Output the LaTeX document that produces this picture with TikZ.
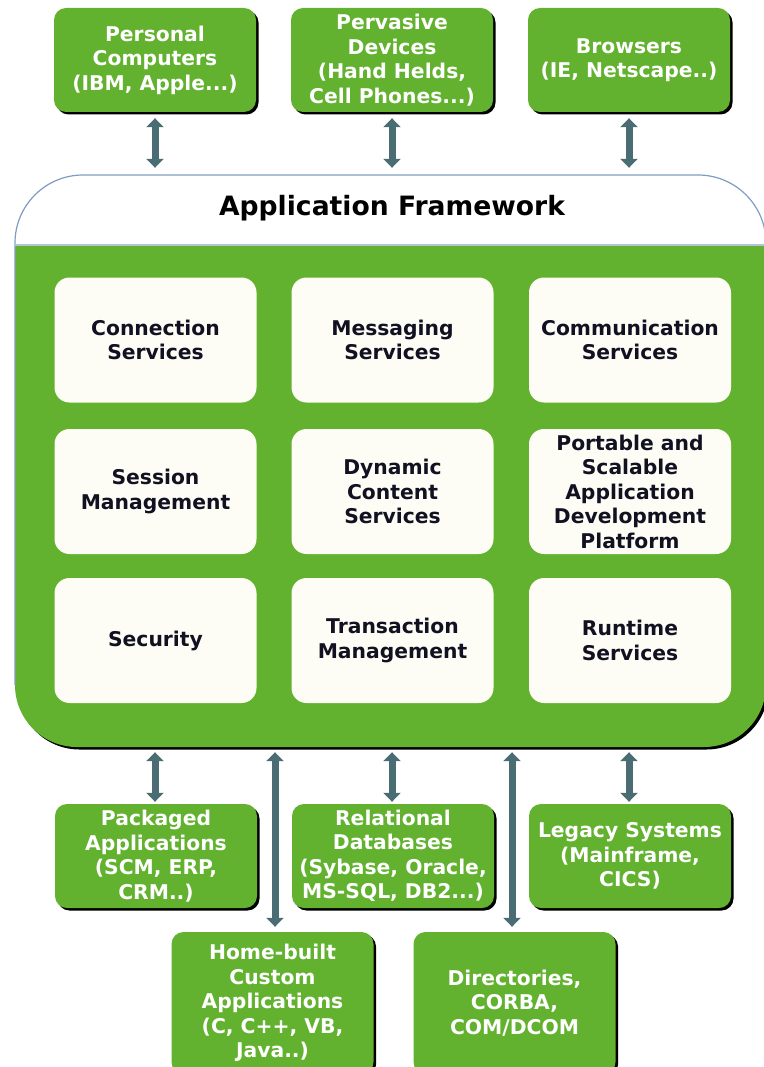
\documentclass[tikz,border=0pt]{standalone}
\usepackage{fontspec}
\setmainfont{DejaVu Sans}
\usetikzlibrary{arrows.meta,shadows}
\definecolor{fwgreen}{HTML}{62B22F}
\definecolor{cream}{HTML}{FDFDF5}
\definecolor{arrowc}{HTML}{4A6D74}
\definecolor{edgeblue}{HTML}{7E9DC2}
\definecolor{inktext}{HTML}{111122}
\tikzset{
  gbox/.style={draw=none, fill=fwgreen, rounded corners=12pt, minimum width=202pt, minimum height=104pt,
    inner sep=0pt, align=center, text=white, font=\fontsize{20.3}{24.5}\selectfont\bfseries,
    drop shadow={shadow xshift=2.5pt, shadow yshift=-2.5pt, fill=black, opacity=1}},
  cbox/.style={draw=none, fill=cream, rounded corners=15pt, minimum width=202pt, minimum height=125pt,
    inner sep=0pt, align=center, text=inktext, font=\fontsize{20.3}{24.5}\selectfont\bfseries},
  arr/.style={draw=arrowc, line width=7pt, {Triangle[width=17pt,length=9pt]}-{Triangle[width=17pt,length=9pt]}},
}
\begin{document}
\begin{tikzpicture}[x=1pt,y=-1pt]
\useasboundingbox (0,0) rectangle (763,1067);
% framework shadow
\fill[black] (17.5,247.5) -- (17.5,687.5) arc[start angle=180,end angle=90,radius=62] -- (706.5,749.5)
  arc[start angle=90,end angle=0,radius=62] -- (768.5,247.5) -- cycle;
% green body
\fill[fwgreen] (15,245) -- (15,685) arc[start angle=180,end angle=90,radius=62] -- (704,747)
  arc[start angle=90,end angle=0,radius=62] -- (766,245) -- cycle;
% white header
\fill[white] (15,245) -- (15,243) arc[start angle=180,end angle=270,radius=68] -- (698,175)
  arc[start angle=270,end angle=360,radius=68] -- (766,245) -- cycle;
% outline
\draw[edgeblue, line width=1.2pt] (15,685) -- (15,243) arc[start angle=180,end angle=270,radius=68] -- (698,175)
  arc[start angle=270,end angle=360,radius=68] -- (766,685);
\draw[edgeblue!60, line width=1.5pt] (15,245) -- (766,245);
\node (fw) [minimum width=751pt, minimum height=572pt, inner sep=0pt] at (390.5,461) {};
\node (title) [font=\fontsize{26.6}{30}\selectfont\bfseries, text=black] at (392,208) {Application Framework};

% top boxes
\node (pc) [gbox] at (155,60) {Personal\\Computers\\(IBM, Apple...)};
\node (pd) [gbox] at (392,60) {Pervasive\\Devices\\(Hand Helds,\\Cell Phones...)};
\node (br) [gbox] at (629,60) {Browsers\\(IE, Netscape..)};

% inner boxes
\node (cs) [cbox] at (155.5,340) {Connection\\Services};
\node (ms) [cbox] at (392.5,340) {Messaging\\Services};
\node (co) [cbox] at (630,340) {Communication\\Services};
\node (sm) [cbox] at (155.5,491.5) {Session\\Management};
\node (dc) [cbox] at (392.5,491.5) {Dynamic\\Content\\Services};
\node (ps) [cbox] at (630,491.5) {Portable and\\Scalable\\Application\\Development\\Platform};
\node (se) [cbox] at (155.5,640.5) {Security};
\node (tm) [cbox] at (392.5,640.5) {Transaction\\Management};
\node (rs) [cbox] at (630,640.5) {Runtime\\Services};

% bottom boxes
\node (pa) [gbox] at (156,856) {Packaged\\Applications\\(SCM, ERP,\\CRM..)};
\node (rd) [gbox] at (393,856) {Relational\\Databases\\(Sybase, Oracle,\\MS-SQL, DB2...)};
\node (ls) [gbox] at (630,856) {Legacy Systems\\(Mainframe,\\CICS)};
\node (hb) [gbox, minimum height=142pt] at (272.5,1003) {Home-built\\Custom\\Applications\\(C, C++, VB,\\Java..)};
\node (dir) [gbox, minimum height=142pt] at (514.5,1003) {Directories,\\CORBA,\\COM/DCOM};

% connectors top
\draw[arr, shorten <=6pt, shorten >=7pt] (pc.south) -- (pc.south |- fw.north);
\draw[arr, shorten <=6pt, shorten >=7pt] (pd.south) -- (pd.south |- fw.north);
\draw[arr, shorten <=6pt, shorten >=7pt] (br.south) -- (br.south |- fw.north);
% connectors bottom
\draw[arr, shorten <=2pt, shorten >=5pt] ([xshift=-1pt]pa.north) -- ([xshift=-1pt]pa.north |- fw.south);
\draw[arr, shorten <=2pt, shorten >=5pt] ([xshift=-1pt]rd.north) -- ([xshift=-1pt]rd.north |- fw.south);
\draw[arr, shorten <=2pt, shorten >=5pt] ([xshift=-1pt]ls.north) -- ([xshift=-1pt]ls.north |- fw.south);
\draw[arr, shorten <=5pt, shorten >=5pt] ([xshift=2.5pt]hb.north) -- ([xshift=2.5pt]hb.north |- fw.south);
\draw[arr, shorten <=5pt, shorten >=5pt] ([xshift=-2.5pt]dir.north) -- ([xshift=-2.5pt]dir.north |- fw.south);
\end{tikzpicture}
\end{document}
